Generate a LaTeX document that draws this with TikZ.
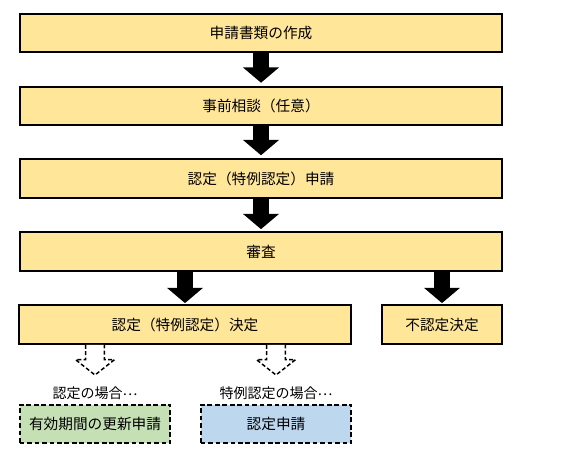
\documentclass[tikz,border=0pt]{standalone}
\usepackage{fontspec}
\newfontfamily\jpfont{Noto Sans CJK JP}
\usetikzlibrary{arrows.meta,calc}
\definecolor{stepyellow}{HTML}{FFE699}
\definecolor{renewgreen}{HTML}{C5E0B4}
\definecolor{applyblue}{HTML}{BDD7EE}
\newcommand{\middots}{\raisebox{0.35ex}{…}}
\tikzset{
    stepbox/.style={draw, line width=1.5pt, fill=stepyellow, minimum height=29pt,
        inner sep=0pt, font=\jpfont\fontsize{11}{13}\selectfont},
    nextbox/.style={stepbox, line width=1.5pt, dash pattern=on 3.6pt off 2pt},
    caselabel/.style={inner sep=0pt, font=\jpfont\fontsize{10.5}{12}\selectfont},
    flowarrow/.style={line width=12pt, -{Triangle[length=11.5pt,width=26.5pt]}},
}
\newcommand{\hollowarrow}[2]{%
    \draw[line width=1.1pt, dash pattern=on 3pt off 1.8pt, fill=white]
        ($(#1)+(-7pt,0)$) -- ($(#2)+(-7pt,11.5pt)$) -- ($(#2)+(-14.6pt,11.5pt)$)
        -- (#2) -- ($(#2)+(14.6pt,11.5pt)$) -- ($(#2)+(7pt,11.5pt)$) -- ($(#1)+(7pt,0)$);
}

\begin{document}
\begin{tikzpicture}[x=0.75pt, y=-0.75pt]
    \useasboundingbox (0,0) rectangle (571,458);
    % main flow
    \node[stepbox, minimum width=362pt] (prepare) at (261,33) {申請書類の作成};
    \node[stepbox, minimum width=362pt] (consult) at (261,106) {事前相談（任意）};
    \node[stepbox, minimum width=362pt] (apply) at (261,178.5) {認定（特例認定）申請};
    \node[stepbox, minimum width=362pt] (review) at (261,251.5) {審査};
    \node[stepbox, minimum width=249pt] (decide) at (185,324.5) {認定（特例認定）決定};
    \node[stepbox, minimum width=90pt] (reject) at (442,324.5) {不認定決定};
    % after decision
    \node[caselabel] (case1) at (95,393) {認定の場合\middots};
    \node[caselabel] (case2) at (276,393) {特例認定の場合\middots};
    \node[nextbox, fill=renewgreen, minimum width=113pt] (renew) at (95,424) {有効期間の更新申請};
    \node[nextbox, fill=applyblue, minimum width=113pt] (newapply) at (276,424) {認定申請};
    \coordinate (tip1) at (95,375);
    \coordinate (tip2) at (276,375);

    \draw[flowarrow] (prepare.south) -- ([yshift=2.2pt]consult.north);
    \draw[flowarrow] (consult.south) -- ([yshift=2.2pt]apply.north);
    \draw[flowarrow] (apply.south) -- ([yshift=1.5pt]review.north);
    \draw[flowarrow] (decide.north |- review.south) -- ([yshift=0.8pt]decide.north);
    \draw[flowarrow] (reject.north |- review.south) -- ([yshift=0.8pt]reject.north);
    \hollowarrow{renew.north |- decide.south}{tip1}
    \hollowarrow{newapply.north |- decide.south}{tip2}
\end{tikzpicture}
\end{document}
